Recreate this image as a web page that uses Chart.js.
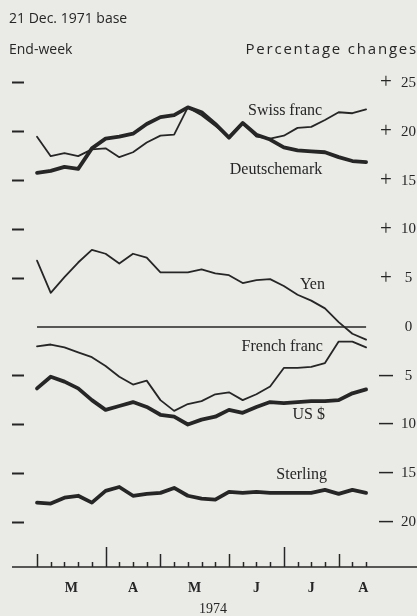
<!DOCTYPE html>
<html>
<head>
<meta charset="utf-8">
<script src="https://cdn.jsdelivr.net/npm/chart.js@4"></script>
<style>
  html, body { margin: 0; padding: 0; background: #eaebe6; }
  #wrap { width: 417px; height: 616px; }
</style>
</head>
<body>
<div id="wrap"><canvas id="myChart" width="417" height="616"></canvas></div>
<script>
// End-week readings, March - August 1974, % change against 21 Dec. 1971
const weeks = [0, 1, 2, 3, 4, 5, 6, 7, 8, 9, 10, 11, 12, 13, 14, 15, 16, 17, 18, 19, 20, 21, 22, 23, 24];

const swissFranc = [19.5, 17.5, 17.8, 17.5, 18.2, 18.3, 17.4, 17.9, 18.9, 19.6, 19.7, 22.5, 21.7, 20.6, 19.5, 20.9, 19.5, 19.3, 19.6, 20.4, 20.5, 21.2, 22.0, 21.9, 22.3];
const deutschemark = [15.8, 16.0, 16.4, 16.2, 18.3, 19.3, 19.5, 19.8, 20.8, 21.5, 21.7, 22.5, 22.0, 20.8, 19.4, 20.9, 19.7, 19.2, 18.4, 18.1, 18.0, 17.9, 17.4, 17.0, 16.9];
const yen = [6.8, 3.5, 5.1, 6.6, 7.9, 7.5, 6.5, 7.5, 7.1, 5.6, 5.6, 5.6, 5.9, 5.5, 5.3, 4.5, 4.8, 4.9, 4.2, 3.3, 2.7, 1.9, 0.5, -0.7, -1.3];
const frenchFranc = [-2.0, -1.8, -2.1, -2.6, -3.1, -4.0, -5.1, -5.9, -5.5, -7.5, -8.6, -7.9, -7.6, -6.9, -6.7, -7.5, -6.9, -6.1, -4.2, -4.2, -4.1, -3.7, -1.5, -1.5, -2.1];
const usDollar = [-6.3, -5.1, -5.6, -6.3, -7.5, -8.5, -8.1, -7.7, -8.2, -9.0, -9.2, -10.0, -9.5, -9.2, -8.5, -8.8, -8.2, -7.7, -7.8, -7.7, -7.6, -7.6, -7.5, -6.8, -6.4];
const sterling = [-18.0, -18.1, -17.5, -17.3, -18.0, -16.8, -16.4, -17.3, -17.1, -17.0, -16.5, -17.3, -17.6, -17.7, -16.9, -17.0, -16.9, -17.0, -17.0, -17.0, -17.0, -16.7, -17.1, -16.7, -17.0];

const yTicks = [25, 20, 15, 10, 5, 0, -5, -10, -15, -20];
const monthNames = ['M', 'A', 'M', 'J', 'J', 'A'];
const monthPos = [2.5, 7, 11.5, 16, 20, 23.8];

const ink = '#262626';
const paper = '#eaebe6';
const serif = 'Liberation Serif';
const sans = 'Open Sans';

// axis ranges chosen so the grid lands where the printed one does
const xMin = -0.95, xMax = 24.65;
const yMin = -24.6, yMax = 26.33;

// weekly tick marks on the time axis
const bigTicks = [5, 18];
const midTicks = [0, 9, 14, 22];

// series name labels, anchored in data units (right edge, middle)
const seriesLabels = [
  { text: 'Swiss franc', x: 20.8, y: 22.2 },
  { text: 'Deutschemark', x: 20.8, y: 16.1 },
  { text: 'Yen', x: 21.0, y: 4.3 },
  { text: 'French franc', x: 20.85, y: -2.05 },
  { text: 'US $', x: 21.0, y: -9.0 },
  { text: 'Sterling', x: 21.15, y: -15.2 }
];

function line(values, width) {
  return {
    data: values,
    borderColor: ink,
    borderWidth: width,
    pointRadius: 0,
    tension: 0,
    borderJoinStyle: 'round',
    borderCapStyle: 'round'
  };
}

const decor = {
  id: 'decor',
  beforeDraw(chart) {
    const ctx = chart.ctx;
    ctx.save();
    ctx.fillStyle = paper;
    ctx.fillRect(0, 0, chart.width, chart.height);
    ctx.restore();
  },
  afterDraw(chart) {
    const { ctx } = chart;
    const x = chart.scales.x, y = chart.scales.y;
    ctx.save();
    ctx.strokeStyle = ink;
    ctx.fillStyle = ink;

    // time axis and weekly ticks
    ctx.lineWidth = 1.5;
    ctx.beginPath();
    ctx.moveTo(12, x.top);
    ctx.lineTo(chart.width, x.top);
    ctx.stroke();
    weeks.forEach(w => {
      const px = Math.round(x.getPixelForValue(w)) + 0.5;
      const h = bigTicks.includes(w) ? 20 : midTicks.includes(w) ? 13 : 5;
      ctx.beginPath();
      ctx.moveTo(px, x.top);
      ctx.lineTo(px, x.top - h);
      ctx.stroke();
    });

    // header
    ctx.textBaseline = 'middle';
    ctx.font = '14px "' + sans + '"';
    ctx.textAlign = 'left';
    ctx.fillText('21 Dec. 1971 base', 9, 19);
    ctx.fillText('End-week', 9, 50);
    ctx.textAlign = 'right';
    ctx.font = '15px "' + sans + '"';
    ctx.letterSpacing = '1.8px';
    ctx.fillText('Percentage changes', 418, 50);
    ctx.letterSpacing = '0px';

    // series names
    ctx.font = '16px "' + serif + '"';
    seriesLabels.forEach(l => {
      ctx.fillText(l.text, x.getPixelForValue(l.x), y.getPixelForValue(l.y));
    });

    ctx.textAlign = 'center';
    ctx.font = '14px "' + serif + '"';
    ctx.fillText('1974', 213, 609);
    ctx.restore();
  }
};

const rightAxis = (width, padding, callback, font) => ({
  position: 'right',
  min: yMin,
  max: yMax,
  afterBuildTicks: s => { s.ticks = yTicks.map(v => ({ value: v })); },
  afterFit: s => { s.width = width; },
  grid: { display: false, drawTicks: false },
  border: { display: false },
  ticks: { callback, padding, crossAlign: 'center', color: ink, font }
});

const config = {
  type: 'line',
  data: {
    labels: weeks,
    datasets: [
      // zero reference line across the plotted weeks
      { data: [{ x: weeks[0], y: 0 }, { x: weeks[weeks.length - 1], y: 0 }],
        borderColor: ink, borderWidth: 1.6, pointRadius: 0 },
      line(swissFranc, 1.8),
      line(deutschemark, 3.8),
      line(yen, 1.8),
      line(frenchFranc, 1.8),
      line(usDollar, 3.8),
      line(sterling, 3.8)
    ]
  },
  options: {
    responsive: false,
    animation: false,
    events: [],
    layout: { padding: { top: 70, left: 12, right: 0, bottom: 0 } },
    plugins: { legend: { display: false }, tooltip: { enabled: false } },
    scales: {
      x: {
        type: 'linear',
        min: xMin,
        max: xMax,
        afterBuildTicks: s => { s.ticks = monthPos.map(v => ({ value: v })); },
        afterFit: s => { s.height = 49; },
        grid: { display: false, drawTicks: false },
        border: { display: false },
        ticks: {
          callback: (v, i) => monthNames[i],
          autoSkip: false,
          maxRotation: 0,
          padding: 13,
          color: ink,
          font: { family: serif, weight: 'bold', size: 14 }
        }
      },
      y: {
        position: 'left',
        min: yMin,
        max: yMax,
        afterBuildTicks: s => { s.ticks = yTicks.map(v => ({ value: v })); },
        afterFit: s => { s.width = 12; },
        ticks: { display: false },
        grid: {
          drawOnChartArea: false,
          drawTicks: true,
          tickLength: 12,
          tickWidth: 2,
          tickColor: c => (c.tick && c.tick.value === 0) ? 'rgba(0,0,0,0)' : ink
        },
        border: { display: false }
      },
      ySign: rightAxis(23, 4,
        v => v > 0 ? '+' : v < 0 ? '—' : '',
        c => (c.tick && c.tick.value < 0)
          ? { family: 'Liberation Sans', size: 14, weight: 'bold' }
          : { family: serif, size: 21 }),
      yNum: rightAxis(19, 3, v => String(Math.abs(v)), { family: serif, size: 15 })
    }
  },
  plugins: [decor]
};

const myChart = new Chart(document.getElementById('myChart'), config);
</script>
</body>
</html>
